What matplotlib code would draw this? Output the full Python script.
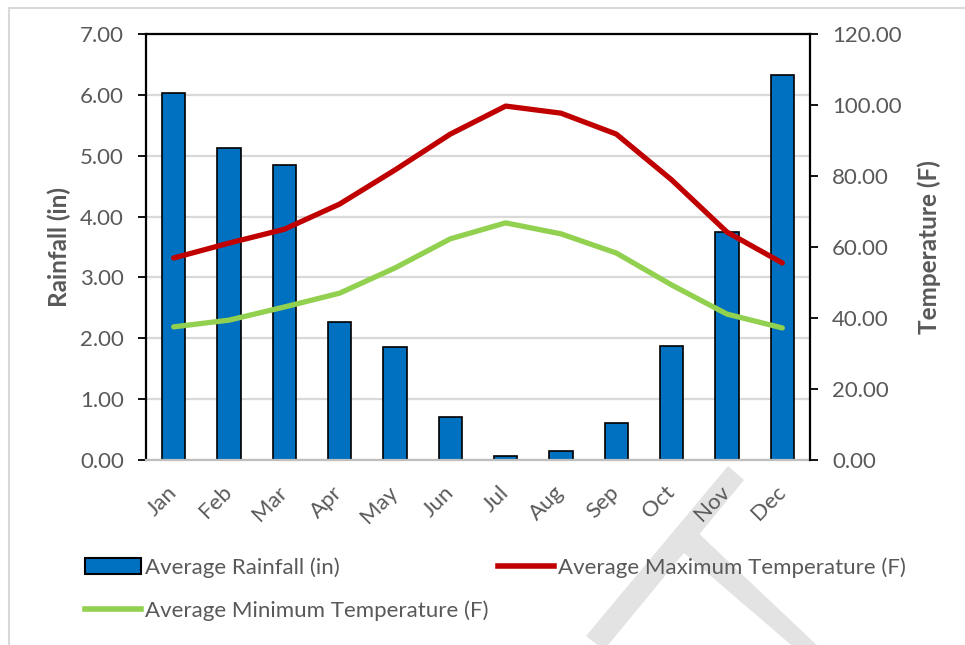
import matplotlib.pyplot as plt
from matplotlib.patches import Rectangle, Patch, Polygon
from matplotlib.lines import Line2D
from matplotlib.ticker import FormatStrFormatter

months = ["Jan", "Feb", "Mar", "Apr", "May", "Jun",
          "Jul", "Aug", "Sep", "Oct", "Nov", "Dec"]
rainfall = [6.03, 5.12, 4.84, 2.26, 1.86, 0.71, 0.07, 0.15, 0.61, 1.88, 3.75, 6.33]
max_temp = [56.9, 61.1, 65.0, 72.1, 81.7, 91.8, 99.7, 97.7, 91.8, 78.9, 64.2, 55.5]
min_temp = [37.5, 39.4, 43.1, 47.0, 54.1, 62.3, 66.8, 63.7, 58.3, 49.3, 41.1, 37.2]

GRAY = "#595959"
BLUE = "#0070c0"
RED = "#c00000"
GREEN = "#92d050"
W, H = 965, 645


def px(x, y):
    # pixel coords (from top-left) -> figure fraction
    return (x / W, 1 - y / H)


plt.rcParams["font.family"] = ["Lato", "DejaVu Sans"]

fig = plt.figure(figsize=(9.65, 6.45), dpi=100)
# light outer border like the chart frame
fig.patches.append(Rectangle(px(9, 700), 1.2, (700 - 8) / H,
                             transform=fig.transFigure, fill=False,
                             edgecolor="#d9d9d9", lw=1.5, zorder=-2))

# faint watermark strokes seen behind the lower right corner
for pts in ([(728, 466), (744, 480), (604, 650), (586, 636)],
            [(677, 547), (693, 528), (822, 650), (797, 650)]):
    fig.patches.append(Polygon([px(*p) for p in pts], closed=True,
                               transform=fig.transFigure, facecolor="#e3e3e3",
                               edgecolor="none", zorder=-1))

ax = fig.add_axes([146 / W, 1 - 460 / H, 664 / W, 426 / H])
ax.patch.set_alpha(0)
x = list(range(len(months)))
ax.bar(x, rainfall, width=0.42, color=BLUE, edgecolor="black", lw=1.2, zorder=2)
ax.set_xlim(-0.5, len(months) - 0.5)
ax.set_ylim(0, 7)
ax.set_yticks(list(range(8)))
ax.yaxis.set_major_formatter(FormatStrFormatter("%.2f"))
ax.grid(axis="y", color="#d9d9d9", lw=1.6, zorder=0)
ax.set_axisbelow(True)
ax.set_xticks(x)
ax.set_xticklabels(months, rotation=45, ha="right", va="center",
                   rotation_mode="anchor", color=GRAY, fontsize=16)
ax.tick_params(axis="x", length=0, pad=21)
ax.tick_params(axis="y", colors="black", labelcolor=GRAY, labelsize=16,
               length=6, width=1.3, direction="out", pad=10)
ax.set_ylabel("Rainfall (in)", color=GRAY, fontsize=17.5, fontweight="bold", labelpad=6)
for s in ["left", "top"]:
    ax.spines[s].set_color("black")
    ax.spines[s].set_linewidth(1.6)
ax.spines["bottom"].set_color("#bfbfbf")
ax.spines["bottom"].set_linewidth(1.6)
ax.spines["right"].set_visible(False)

ax2 = ax.twinx()
ax2.plot(x, max_temp, color=RED, lw=3.8, solid_capstyle="round", zorder=3)
ax2.plot(x, min_temp, color=GREEN, lw=3.8, solid_capstyle="round", zorder=3)
ax2.set_ylim(0, 120)
ax2.set_yticks(list(range(0, 121, 20)))
ax2.yaxis.set_major_formatter(FormatStrFormatter("%.2f"))
ax2.tick_params(axis="y", colors="black", labelcolor=GRAY, labelsize=16,
                length=6, width=1.3, direction="out", pad=10)
ax2.set_ylabel("Temperature (F)", color=GRAY, fontsize=17.5, fontweight="bold", labelpad=11)
for s in ["left", "top", "bottom"]:
    ax2.spines[s].set_visible(False)
ax2.spines["right"].set_color("black")
ax2.spines["right"].set_linewidth(1.6)

rain_h = Patch(facecolor=BLUE, edgecolor="black", lw=1.5, label="Average Rainfall (in)")
min_h = Line2D([], [], color=GREEN, lw=4, label="Average Minimum Temperature (F)")
max_h = Line2D([], [], color=RED, lw=4, label="Average Maximum Temperature (F)")

leg_kw = dict(loc="upper left", frameon=False, fontsize=16, labelcolor=GRAY,
              handlelength=2.5, handleheight=0.7, handletextpad=0.2,
              labelspacing=1.03, borderpad=0, borderaxespad=0)
fig.legend(handles=[rain_h, min_h], bbox_to_anchor=px(85, 557), **leg_kw)
fig.legend(handles=[max_h], bbox_to_anchor=px(498, 557), **leg_kw)

fig.savefig("out.png", dpi=100)
